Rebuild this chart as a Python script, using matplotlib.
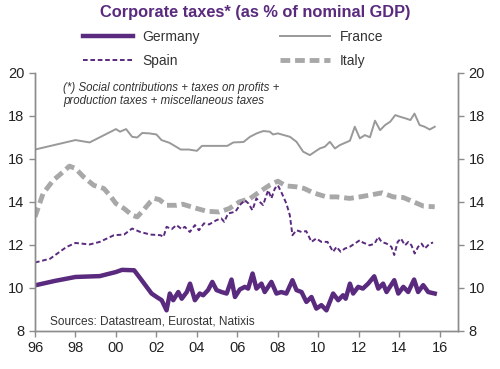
import matplotlib
matplotlib.use("Agg")
import matplotlib.pyplot as plt

plt.rcParams['font.family'] = ['Liberation Sans', 'DejaVu Sans']

# Germany
ger_t = [1996.0, 1997.0, 1998.0, 1999.2, 2000.0, 2000.3, 2000.9, 2001.27, 2001.76, 2002.01, 2002.26,
         2002.5, 2002.66, 2002.83, 2003.08, 2003.25, 2003.5, 2003.66, 2003.9, 2004.14, 2004.31, 2004.55,
         2004.76, 2004.97, 2005.22, 2005.47, 2005.71, 2005.88, 2006.12, 2006.37, 2006.53, 2006.75, 2006.94,
         2007.19, 2007.35, 2007.68, 2007.93, 2008.17, 2008.42, 2008.72, 2008.92, 2009.17, 2009.41, 2009.66,
         2009.9, 2010.15, 2010.4, 2010.73, 2010.98, 2011.22, 2011.35, 2011.56, 2011.72, 2011.97, 2012.2,
         2012.46, 2012.76, 2012.96, 2013.2, 2013.37, 2013.75, 2013.95, 2014.2, 2014.44, 2014.73, 2014.93,
         2015.18, 2015.43, 2015.75]
ger_v = [10.12, 10.33, 10.51, 10.55, 10.74, 10.84, 10.82, 10.36, 9.74, 9.58, 9.43,
         8.96, 9.74, 9.43, 9.81, 9.5, 9.81, 10.2, 9.43, 9.74, 9.66, 9.9,
         10.28, 9.9, 9.81, 9.74, 10.39, 9.58, 9.93, 10.05, 9.97, 10.67, 9.97,
         10.2, 9.81, 10.28, 9.74, 9.81, 9.74, 10.36, 9.9, 9.81, 9.35, 9.58,
         9.04, 9.2, 8.96, 9.74, 9.43, 9.66, 9.5, 10.2, 9.74, 10.05, 9.97,
         10.2, 10.54, 9.97, 10.2, 9.81, 10.36, 9.74, 10.05, 9.81, 10.39, 9.81,
         10.13, 9.81, 9.74]

# France
fra_t = [1996.0, 1998.0, 1998.7, 2000.0, 2000.2, 2000.5, 2000.8, 2001.05, 2001.3, 2001.65, 2002.0,
         2002.25, 2002.65, 2003.2, 2003.6, 2004.0, 2004.25, 2005.0, 2005.5, 2005.8, 2006.3, 2006.62,
         2006.95, 2007.28, 2007.6, 2007.76, 2008.0, 2008.3, 2008.6, 2008.92, 2009.25, 2009.58, 2009.83,
         2010.07, 2010.32, 2010.57, 2010.82, 2011.07, 2011.56, 2011.8, 2012.05, 2012.3, 2012.55, 2012.8,
         2013.05, 2013.3, 2013.55, 2013.8, 2014.05, 2014.3, 2014.55, 2014.75, 2015.0, 2015.25, 2015.5,
         2015.75]
fra_v = [16.43, 16.87, 16.76, 17.38, 17.26, 17.38, 17.02, 16.99, 17.2, 17.18, 17.13,
         16.87, 16.74, 16.43, 16.43, 16.37, 16.6, 16.6, 16.6, 16.76, 16.78, 17.02,
         17.18, 17.29, 17.26, 17.13, 17.18, 17.1, 17.02, 16.79, 16.33, 16.17, 16.33,
         16.48, 16.56, 16.79, 16.48, 16.64, 16.84, 17.49, 16.95, 17.1, 17.0, 17.77,
         17.33, 17.57, 17.72, 18.03, 17.95, 17.88, 17.8, 18.1, 17.57, 17.49, 17.36,
         17.49]

# Spain
esp_t = [1996.0, 1996.75, 1997.55, 1998.0, 1998.7, 1999.2, 1999.9, 2000.4, 2000.8, 2001.2, 2001.7,
         2002.2, 2002.35, 2002.5, 2002.75, 2002.99, 2003.25, 2003.4, 2003.65, 2003.9, 2004.1, 2004.35,
         2004.6, 2004.97, 2005.2, 2005.35, 2005.54, 2005.9, 2006.12, 2006.37, 2006.55, 2006.74, 2006.94,
         2007.1, 2007.27, 2007.52, 2007.68, 2007.85, 2008.0, 2008.2, 2008.42, 2008.59, 2008.72, 2008.92,
         2009.17, 2009.4, 2009.66, 2009.9, 2010.15, 2010.45, 2010.73, 2010.9, 2011.1, 2011.31, 2011.55,
         2011.8, 2012.05, 2012.2, 2012.54, 2012.78, 2012.96, 2013.12, 2013.37, 2013.61, 2013.75, 2013.92,
         2014.08, 2014.28, 2014.45, 2014.6, 2014.76, 2014.93, 2015.1, 2015.26, 2015.5, 2015.67]
esp_v = [11.18, 11.36, 11.9, 12.09, 12.02, 12.14, 12.45, 12.48, 12.76, 12.6, 12.48,
         12.45, 12.37, 12.84, 12.73, 12.92, 12.73, 12.84, 12.6, 12.92, 12.68, 13.0,
         12.95, 13.15, 13.23, 13.07, 13.46, 13.54, 13.85, 14.08, 13.92, 13.61, 14.16,
         14.0, 13.85, 14.54, 14.16, 14.62, 14.77, 14.39, 13.92, 13.38, 12.45, 12.68,
         12.6, 12.64, 12.14, 12.3, 12.14, 12.14, 11.68, 11.91, 11.68, 11.83, 11.91,
         12.06, 12.22, 12.11, 11.98, 12.06, 12.37, 12.14, 12.06, 11.91, 11.53, 12.14,
         12.3, 11.98, 12.14, 11.98, 11.6, 11.91, 12.06, 11.83, 12.06, 12.11]

# Italy
ita_t = [1996.0, 1996.4, 1996.9, 1997.4, 1997.7, 1998.0, 1998.4, 1998.9, 1999.4, 1999.7, 2000.0,
         2000.4, 2000.8, 2001.05, 2001.35, 2001.7, 2001.9, 2002.15, 2002.5, 2003.0, 2003.3, 2004.0,
         2004.5, 2005.1, 2005.6, 2006.1, 2006.62, 2007.1, 2007.6, 2008.0, 2008.4, 2008.9, 2009.3,
         2009.75, 2010.4, 2010.9, 2011.55, 2012.05, 2012.7, 2013.15, 2013.7, 2014.2, 2014.7, 2015.2,
         2015.75]
ita_v = [13.3, 14.39, 15.0, 15.4, 15.66, 15.55, 15.16, 14.77, 14.62, 14.3, 13.92,
         13.69, 13.38, 13.3, 13.61, 14.0, 14.16, 14.1, 13.84, 13.84, 13.89, 13.69,
         13.56, 13.53, 13.69, 14.0, 14.15, 14.47, 14.78, 14.96, 14.74, 14.7, 14.62,
         14.42, 14.23, 14.23, 14.16, 14.23, 14.34, 14.42, 14.23, 14.2, 14.0, 13.8,
         13.77]

xticks = list(range(1996, 2017, 2))
xlabels = ['96', '98', '00', '02', '04', '06', '08', '10', '12', '14', '16']
yticks = [8, 10, 12, 14, 16, 18, 20]

purple = '#5a2a7e'
grey_fr = '#999999'
grey_it = '#a8a8a8'
axis_col = '#8c8c8c'

fig = plt.figure(figsize=(5.0, 3.69), dpi=100)
ax = fig.add_axes([0.07, 0.103, 0.846, 0.700])

ax.plot(fra_t, fra_v, color=grey_fr, lw=1.4, label='France')
ax.plot(ita_t, ita_v, color=grey_it, lw=3.5, linestyle=(0, (2.0, 1.0)), label='Italy')
ax.plot(esp_t, esp_v, color=purple, lw=1.4, linestyle=(0, (2.4, 1.4)), label='Spain')
ax.plot(ger_t, ger_v, color=purple, lw=3.2, solid_joinstyle='round', label='Germany')

ax.set_xlim(1996, 2016.9)
ax.set_ylim(8, 20)
ax.set_xticks(xticks)
ax.set_xticklabels(xlabels)
ax.set_yticks(yticks)

ax2 = ax.twinx()
ax2.set_ylim(8, 20)
ax2.set_yticks(yticks)

for a in (ax, ax2):
    a.spines['top'].set_visible(False)
    for s in ('left', 'right', 'bottom'):
        a.spines[s].set_color(axis_col)
        a.spines[s].set_linewidth(1.0)
    a.tick_params(colors=axis_col, labelcolor='#222222', labelsize=10.5, length=4, width=1.0)

ax.text(0.066, 0.965, '(*) Social contributions + taxes on profits +\nproduction taxes + miscellaneous taxes',
        transform=ax.transAxes, ha='left', va='top', fontsize=8.3, style='italic',
        color='#333333', linespacing=1.15)
ax.text(0.036, 0.035, 'Sources: Datastream, Eurostat, Natixis', transform=ax.transAxes,
        ha='left', va='center', fontsize=8.6, color='#333333')

fig.text(0.51, 0.965, 'Corporate taxes* (as % of nominal GDP)', ha='center', va='center',
         fontsize=11.8, fontweight='bold', color=purple)

# legend fills column by column: Germany/Spain, then France/Italy
handles, labels = ax.get_legend_handles_labels()
order = [3, 2, 0, 1]
fig.legend([handles[i] for i in order], [labels[i] for i in order], ncol=2,
           loc='center left', bbox_to_anchor=(0.14, 0.867), frameon=False, fontsize=10,
           handlelength=3.6, columnspacing=5.8, labelspacing=0.75, handletextpad=0.7,
           labelcolor='#333333')

fig.savefig('out.png', dpi=100)
